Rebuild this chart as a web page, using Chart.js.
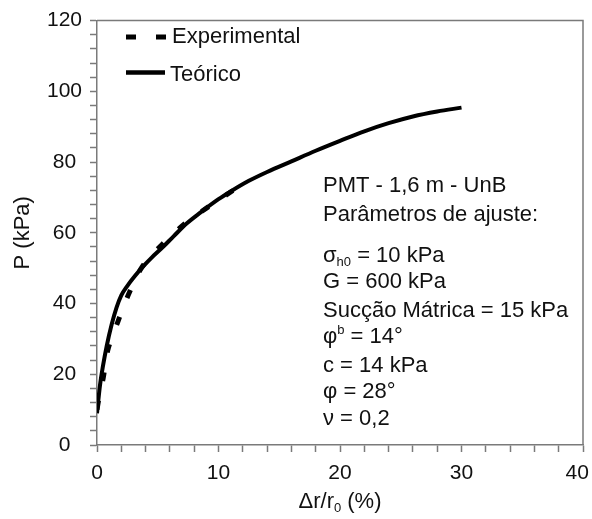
<!DOCTYPE html>
<html lang="pt">
<head>
<meta charset="utf-8">
<title>PMT - 1,6 m - UnB</title>
<script src="https://cdn.jsdelivr.net/npm/chart.js@4/dist/chart.umd.min.js"></script>
<style>
  html, body { margin: 0; padding: 0; background: #fff; }
</style>
</head>
<body>
<canvas id="pmtChart" width="592" height="519"></canvas>
<script>
/* =========================
   DADOS
==========================*/
// Curva teórica (Δr/r0 em %, P em kPa)
const teoricoX = [0, 0.25, 0.5, 0.8, 1.2, 1.6, 2.0, 2.5, 3.1, 3.8, 4.5, 5.4, 6.3, 7.4, 8.5, 10, 11, 12.5, 14, 16, 18, 20, 22, 24, 26, 28, 30];
const teoricoP = [9, 17, 22.5, 28, 34, 38.8, 42.3, 45, 47.7, 50.5, 53, 55.9, 59, 62.7, 65.7, 69.5, 71.7, 74.7, 77.2, 80.2, 83.2, 86, 88.7, 91, 92.9, 94.3, 95.4];

// Ensaio pressiométrico
const expX = [0, 0.2, 0.5, 0.9, 1.7, 2.6, 3.7, 5.3, 7.2, 9.1, 11.2];
const expP = [10, 14, 18.7, 27, 34.7, 42.6, 50.3, 56.5, 62.5, 67.2, 72];

const xTickLabels = [0, 10, 20, 30, 40];
const yTickLabels = [0, 20, 40, 60, 80, 100, 120];

const serieNomes = ["Experimental", "Teórico"];

const notas = [
  [{ t: "PMT - 1,6 m - UnB" }],
  [{ t: "Parâmetros de ajuste:" }],
  [{ t: "σ" }, { t: "h0", sub: true }, { t: " = 10 kPa" }],
  [{ t: "G = 600 kPa" }],
  [{ t: "Sucção Mátrica = 15 kPa" }],
  [{ t: "φ" }, { t: "b", sup: true }, { t: " = 14°" }],
  [{ t: "c = 14 kPa" }],
  [{ t: "φ = 28°" }],
  [{ t: "ν = 0,2" }],
];

const tituloX = [{ t: "Δr/r" }, { t: "0", sub: true }, { t: " (%)" }];
const tituloY = "P (kPa)";

/* =========================
   ESTILO
==========================*/
const FONTE = "'Liberation Sans', Arial, sans-serif";
const COR_EIXO = "#7a7a7a";
const COR_TEXTO = "#111";
const notasX = 323;
const notasBase = [192, 221, 262, 288, 317, 343, 372, 398, 425];

function pares(xs, ys) {
  return xs.map((x, i) => ({ x, y: ys[i] }));
}

function medirRico(ctx, partes, tam) {
  let w = 0;
  partes.forEach((p) => {
    const t = p.sub || p.sup ? Math.round(tam * 0.58) : tam;
    ctx.font = t + "px " + FONTE;
    w += ctx.measureText(p.t).width;
  });
  return w;
}

function textoRico(ctx, partes, x, y, tam) {
  let cx = x;
  partes.forEach((p) => {
    const t = p.sub || p.sup ? Math.round(tam * 0.58) : tam;
    ctx.font = t + "px " + FONTE;
    const dy = p.sub ? tam * 0.2 : p.sup ? -tam * 0.42 : 0;
    ctx.fillText(p.t, cx, y + dy);
    cx += ctx.measureText(p.t).width;
  });
}

/* =========================
   PLUGIN: moldura, legenda, notas e títulos
==========================*/
const extras = {
  id: "extras",
  afterDraw(chart) {
    const { ctx, chartArea: a } = chart;
    ctx.save();

    // moldura superior e direita
    ctx.strokeStyle = COR_EIXO;
    ctx.lineWidth = 1.5;
    ctx.beginPath();
    ctx.moveTo(a.left, a.top);
    ctx.lineTo(a.right, a.top);
    ctx.lineTo(a.right, a.bottom);
    ctx.stroke();

    // legenda
    ctx.strokeStyle = "#000";
    ctx.lineCap = "butt";
    ctx.lineWidth = 5;
    ctx.setLineDash([10, 20]);
    ctx.beginPath();
    ctx.moveTo(126, 37);
    ctx.lineTo(167, 37);
    ctx.stroke();
    ctx.setLineDash([]);
    ctx.lineWidth = 4.5;
    ctx.beginPath();
    ctx.moveTo(126, 72.5);
    ctx.lineTo(165, 72.5);
    ctx.stroke();

    ctx.fillStyle = COR_TEXTO;
    ctx.textAlign = "left";
    ctx.textBaseline = "alphabetic";
    ctx.font = "22px " + FONTE;
    ctx.fillText(serieNomes[0], 172, 43);
    ctx.fillText(serieNomes[1], 170, 81);

    // notas
    notas.forEach((linha, i) => textoRico(ctx, linha, notasX, notasBase[i], 22));

    // título do eixo x
    const cx = (a.left + a.right) / 2;
    const w = medirRico(ctx, tituloX, 22);
    textoRico(ctx, tituloX, cx - w / 2, 508, 22);

    // título do eixo y
    ctx.translate(23, (a.top + a.bottom) / 2);
    ctx.rotate(-Math.PI / 2);
    ctx.textAlign = "center";
    ctx.textBaseline = "middle";
    ctx.font = "22px " + FONTE;
    ctx.fillText(tituloY, 0, 0);

    ctx.restore();
  },
};

/* =========================
   GRÁFICO
==========================*/
const canvas = document.getElementById("pmtChart");

new Chart(canvas, {
  type: "scatter",
  data: {
    datasets: [
      {
        label: serieNomes[0],
        data: pares(expX, expP),
        showLine: true,
        borderColor: "#000",
        borderWidth: 5,
        borderDash: [9, 20],
        pointRadius: 0,
        tension: 0.3,
      },
      {
        label: serieNomes[1],
        data: pares(teoricoX, teoricoP),
        showLine: true,
        borderColor: "#000",
        borderWidth: 4,
        pointRadius: 0,
        cubicInterpolationMode: "monotone",
      },
    ],
  },
  options: {
    responsive: false,
    animation: false,
    layout: { padding: { top: 16, right: 9, left: 0, bottom: 0 } },
    plugins: {
      legend: { display: false },
      tooltip: { enabled: false },
    },
    scales: {
      x: {
        type: "linear",
        min: 0,
        max: 40,
        grid: {
          drawOnChartArea: false,
          drawTicks: true,
          tickLength: 7,
          tickColor: COR_EIXO,
          tickWidth: 1.5,
        },
        border: { display: true, color: COR_EIXO, width: 1.5 },
        ticks: {
          stepSize: 2,
          autoSkip: false,
          maxRotation: 0,
          padding: 9,
          color: COR_TEXTO,
          font: { family: FONTE, size: 21 },
          // o último rótulo fica um pouco recuado, como no original
          callback: (v) => {
            if (!xTickLabels.includes(v)) return "";
            return v === xTickLabels[xTickLabels.length - 1] ? v + "  " : String(v);
          },
        },
        afterFit: (s) => {
          s.height = 74;
          s.paddingLeft = 0;
          s.paddingRight = 0;
        },
      },
      y: {
        type: "linear",
        min: 0,
        max: 120,
        grid: {
          drawOnChartArea: false,
          drawTicks: true,
          tickLength: 7,
          tickColor: COR_EIXO,
          tickWidth: 1.5,
        },
        border: { display: true, color: COR_EIXO, width: 1.5 },
        ticks: {
          stepSize: 4,
          autoSkip: false,
          crossAlign: "center",
          padding: 8,
          color: COR_TEXTO,
          font: { family: FONTE, size: 21 },
          callback: (v) => (yTickLabels.includes(v) ? String(v) : ""),
        },
        afterFit: (s) => {
          s.width = 97;
        },
      },
    },
  },
  plugins: [extras],
});
</script>
</body>
</html>
